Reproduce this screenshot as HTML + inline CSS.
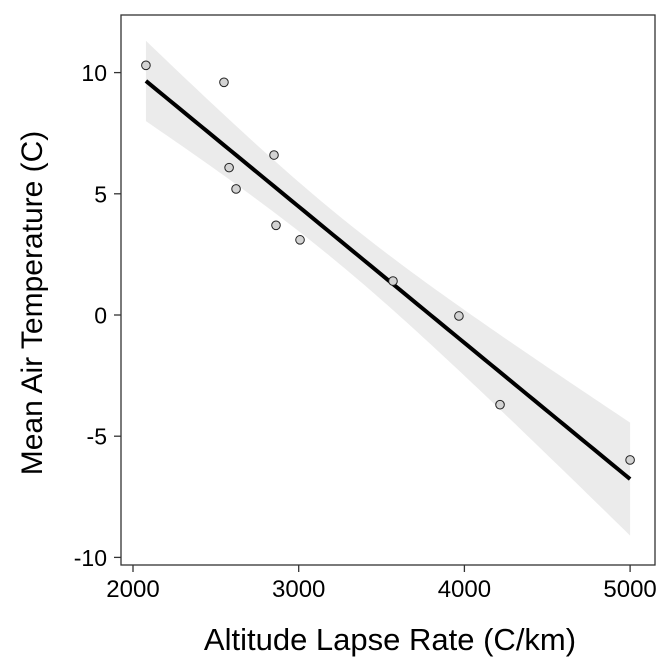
<!DOCTYPE html>
<html><head><meta charset="utf-8"><style>
body{margin:0;background:#fff}
svg{display:block;font-family:"Liberation Sans",Arial,sans-serif}
</style></head><body>
<svg id="chart" width="672" height="672" viewBox="0 0 672 672">
<rect x="0" y="0" width="672" height="672" fill="#fff"/>
<g id="band"></g>
<g id="line"></g>
<g id="pts"></g>
<rect x="121" y="15" width="534" height="550" fill="none" stroke="#333" stroke-width="1.3"/>
<g id="xt"></g>
<g id="yt"></g>
<text x="390" y="650" font-size="31" text-anchor="middle">Altitude Lapse Rate (C/km)</text>
<text transform="translate(42,303) rotate(-90)" font-size="30" text-anchor="middle">Mean Air Temperature (C)</text>
</svg>
<script>
const xVals=[2078,2549,2580,2622,2851,2863,3008,3569,3967,4215,5000];
const yVals=[10.3,9.6,6.08,5.2,6.6,3.7,3.1,1.4,-0.04,-3.7,-5.98];
const xTicks=[2000,3000,4000,5000];
const yTicks=[-10,-5,0,5,10];
const NS="http://www.w3.org/2000/svg";
function sx(v){return 133+(v-2000)*0.1657;}
function sy(v){return 315-v*24.24;}
function mk(t,a,p){const e=document.createElementNS(NS,t);for(const k in a)e.setAttribute(k,a[k]);p.appendChild(e);return e;}
const n=xVals.length;
const mx=xVals.reduce((a,b)=>a+b)/n,my=yVals.reduce((a,b)=>a+b)/n;
let sxx=0,sxy=0;for(let i=0;i<n;i++){sxx+=(xVals[i]-mx)**2;sxy+=(xVals[i]-mx)*(yVals[i]-my);}
const b=sxy/sxx,a=my-b*mx;
let sse=0;for(let i=0;i<n;i++)sse+=(yVals[i]-a-b*xVals[i])**2;
const s=Math.sqrt(sse/(n-2)),tq=2.262;
const x0=Math.min(...xVals),x1=Math.max(...xVals);
const up=[],lo=[],ln=[];
for(let k=0;k<=80;k++){const x=x0+(x1-x0)*k/80;const f=a+b*x;const se=s*Math.sqrt(1/n+(x-mx)**2/sxx);
up.push(sx(x)+","+sy(f+tq*se));lo.unshift(sx(x)+","+sy(f-tq*se));ln.push(sx(x)+","+sy(f));}
const band=mk("polygon",{points:up.concat(lo).join(" "),fill:"#ebebeb"},document.getElementById("band"));


const line=mk("polyline",{points:ln.join(" "),fill:"none",stroke:"#000","stroke-width":4},document.getElementById("line"));


const pg=document.getElementById("pts");
for(let i=0;i<n;i++){const c=mk("circle",{cx:sx(xVals[i]),cy:sy(yVals[i]),r:4.3,fill:"#d3d3d3",stroke:"#222","stroke-width":1},pg);

}
const xg=document.getElementById("xt");
for(const t of xTicks){const l=mk("line",{x1:sx(t),x2:sx(t),y1:565,y2:572,stroke:"#333","stroke-width":1.3},xg);


const tx=mk("text",{x:sx(t),y:597,"font-size":24,"text-anchor":"middle",fill:"#000"},xg);tx.textContent=t;

}
const yg=document.getElementById("yt");
for(const t of yTicks){const l=mk("line",{x1:114,x2:121,y1:sy(t),y2:sy(t),stroke:"#333","stroke-width":1.3},yg);


const tx=mk("text",{x:107,y:sy(t)+8.5,"font-size":23,"text-anchor":"end",fill:"#000"},yg);tx.textContent=t;

}
</script>
</body></html>
